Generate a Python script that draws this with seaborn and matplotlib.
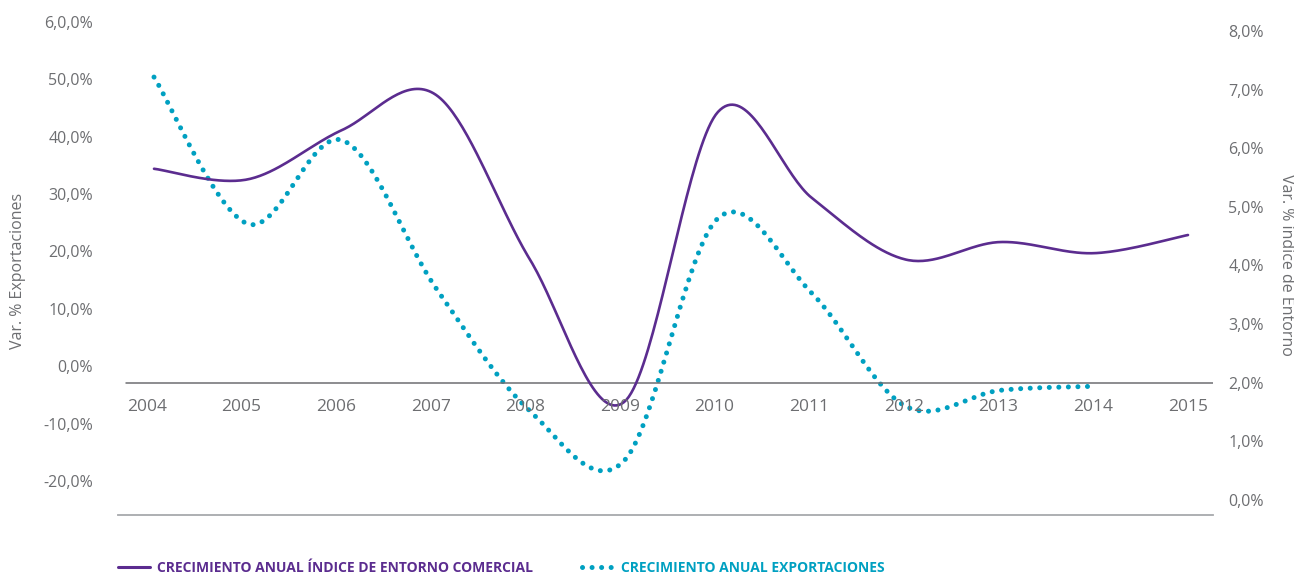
import numpy as np
import pandas as pd
import matplotlib
matplotlib.use("Agg")
import matplotlib.pyplot as plt
from matplotlib.lines import Line2D
import seaborn as sns

# data
years = [2004, 2005, 2006, 2007, 2008, 2009, 2010, 2011, 2012, 2013, 2014, 2015]
entorno = [5.65, 5.47, 6.31, 6.91, 4.10, 1.67, 6.62, 5.15, 4.10, 4.40, 4.21, 4.52]
export_years = [2004, 2005, 2006, 2007, 2008, 2009, 2010, 2011, 2012, 2013, 2014]
exportaciones = [50.4, 24.8, 39.4, 13.6, -7.8, -16.5, 25.8, 12.7, -7.0, -4.2, -3.5]

left_ticks = [60, 50, 40, 30, 20, 10, 0, -10, -20]
left_labels = ["6,0,0%", "50,0%", "40,0%", "30,0%", "20,0%", "10,0%", "0,0%", "-10,0%", "-20,0%"]
right_ticks = [0, 1, 2, 3, 4, 5, 6, 7, 8]
right_labels = ["0,0%", "1,0%", "2,0%", "3,0%", "4,0%", "5,0%", "6,0%", "7,0%", "8,0%"]

label_entorno = "CRECIMIENTO ANUAL ÍNDICE DE ENTORNO COMERCIAL"
label_export = "CRECIMIENTO ANUAL EXPORTACIONES"

purple = "#5b2c8f"
teal = "#00a0c1"
grey = "#6d6e71"


def smooth(xs, ys, n=40):
    # Excel-style smoothed line (Bezier through the points)
    x = np.asarray(xs, float)
    y = np.asarray(ys, float)
    px = np.concatenate([[x[0]], x, [x[-1]]])
    py = np.concatenate([[y[0]], y, [y[-1]]])
    out_x, out_y = [], []
    t = np.linspace(0, 1, n)
    for i in range(1, len(px) - 2):
        for arr, out in ((px, out_x), (py, out_y)):
            p0, p1, p2, p3 = arr[i - 1], arr[i], arr[i + 1], arr[i + 2]
            c1 = p1 + (p2 - p0) / 6
            c2 = p2 - (p3 - p1) / 6
            out.extend((1 - t) ** 3 * p1 + 3 * (1 - t) ** 2 * t * c1
                       + 3 * (1 - t) * t ** 2 * c2 + t ** 3 * p2)
    return pd.DataFrame({"x": out_x, "y": out_y})


sns.set_theme(style="white")
plt.rcParams["font.family"] = ["Open Sans", "DejaVu Sans"]

fig = plt.figure(figsize=(12.94, 5.74), dpi=100)
ax = fig.add_axes([118 / 1294, 59 / 574, 1095 / 1294, 493 / 574])
ax2 = ax.twinx()

df_exp = smooth(export_years, exportaciones)
df_ent = smooth(years, entorno)

sns.lineplot(data=df_exp, x="x", y="y", ax=ax, sort=False, estimator=None,
             color=teal, linewidth=3.6, linestyle=(0, (0.01, 1.9)),
             dash_capstyle="round")
sns.lineplot(data=df_ent, x="x", y="y", ax=ax2, sort=False, estimator=None,
             color=purple, linewidth=1.9)

xmin, xmax = 2003.617, 2015.266
ax.set_xlim(xmin, xmax)
ax.set_ylim(-25.93, 60)
ax2.set_ylim(-0.256, 8.1535)

ax.set_yticks(left_ticks)
ax.set_yticklabels(left_labels)
ax2.set_yticks(right_ticks)
ax2.set_yticklabels(right_labels)
ax.set_xticks([])
ax.set_xlabel("")
ax.set_ylabel("")
ax2.set_ylabel("")

ax.tick_params(axis="y", length=0, pad=18, labelsize=11.5, labelcolor=grey)
ax2.tick_params(axis="y", length=0, pad=11, labelsize=11.5, labelcolor=grey)

for a in (ax, ax2):
    for s in ("left", "right", "top"):
        a.spines[s].set_visible(False)
    a.grid(False)
ax2.spines["bottom"].set_visible(False)
ax.spines["bottom"].set_color("#a7a9ac")
ax.spines["bottom"].set_linewidth(1.3)

# category axis drawn across at 2,0% of the right scale
ax2.axhline(2.0, xmin=0.0073, xmax=1, color=grey, linewidth=1.1, zorder=0)
for i, yr in enumerate(years):
    ax2.text(yr - 0.075 + i * 0.0065, 1.59, str(yr), ha="center", va="center",
             fontsize=12.5, color=grey)

fig.text(18 / 1294, 1 - 271 / 574, "Var. % Exportaciones", rotation=90,
         ha="center", va="center", fontsize=11.5, color=grey)
fig.text(1286 / 1294, 1 - 265 / 574, "Var. % índice de Entorno", rotation=270,
         ha="center", va="center", fontsize=11.5, color=grey)

handles = [Line2D([], [], color=purple, linewidth=2.2),
           Line2D([], [], color=teal, linewidth=3.6, linestyle=(0, (0.01, 1.9)),
                  dash_capstyle="round")]
leg = fig.legend(handles, [label_entorno, label_export], loc="center left",
                 bbox_to_anchor=(118 / 1294, 6 / 574), ncol=2, frameon=False,
                 borderpad=0, borderaxespad=0, handlelength=2.3, handletextpad=0.5,
                 columnspacing=3.55,
                 prop={"family": ["Open Sans"], "weight": "bold", "size": 10})
for txt, c in zip(leg.get_texts(), [purple, teal]):
    txt.set_color(c)

fig.savefig("out.png", dpi=100)
